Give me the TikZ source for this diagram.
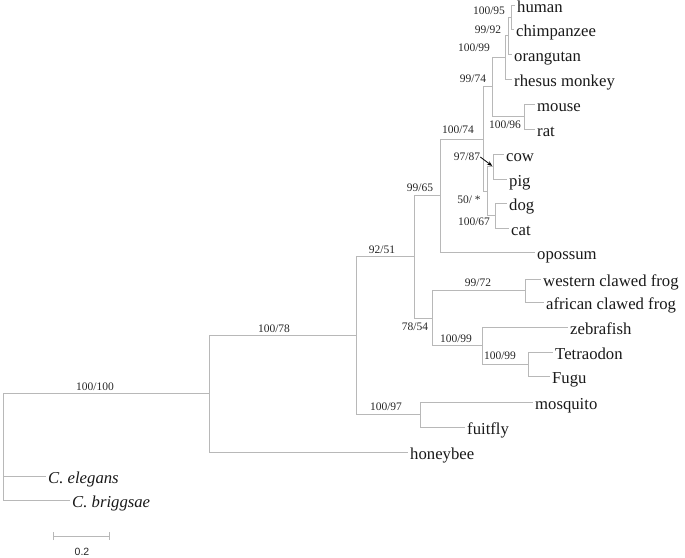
\documentclass[tikz,border=0pt]{standalone}
\usepackage{fontspec}
\setmainfont{Liberation Serif}
\setsansfont{Liberation Sans}
\usetikzlibrary{positioning,arrows.meta}
\tikzset{
  leaf/.style ={anchor=west, inner sep=2pt, text height=15.5pt, text depth=0pt,
                font=\fontsize{16.7}{18}\selectfont, text=black!90},
  bs/.style   ={inner sep=0pt, font=\fontsize{11.5}{13}\selectfont, text=black!85},
  br/.style   ={draw=black!28, line width=0.9pt},
  ptr/.style  ={-{Stealth[length=5pt,width=4pt]}, thick, black, shorten >=1pt},
  sbar/.style ={br, {Bar[width=8pt]}-{Bar[width=8pt]}}
}

\begin{document}
\begin{tikzpicture}[x=1pt,y=-1pt]
  \useasboundingbox (0,0) rectangle (685,557);

  % taxa
  \node[leaf] (human)   at (515,5)   {human};
  \node[leaf] (chimp)   at (514,29)  {chimpanzee};
  \node[leaf] (orang)   at (512,54)  {orangutan};
  \node[leaf] (rhesus)  at (512,79)  {rhesus monkey};
  \node[leaf] (mouse)   at (535,104) {mouse};
  \node[leaf] (rat)     at (535,129) {rat};
  \node[leaf] (cow)     at (504,154) {cow};
  \node[leaf] (pig)     at (507,179) {pig};
  \node[leaf] (dog)     at (507,203) {dog};
  \node[leaf] (cat)     at (509,228) {cat};
  \node[leaf] (opossum) at (535,252) {opossum};
  \node[leaf] (wfrog)   at (541,279) {western clawed frog};
  \node[leaf] (afrog)   at (544,302) {african clawed frog};
  \node[leaf] (zfish)   at (568,327) {zebrafish};
  \node[leaf] (tetra)   at (553,352) {Tetraodon};
  \node[leaf] (fugu)    at (550,376) {Fugu};
  \node[leaf] (mosq)    at (533,402) {mosquito};
  \node[leaf] (fly)     at (465,427) {fuitfly};
  \node[leaf] (bee)     at (408,452) {honeybee};
  \node[leaf] (eleg)    at (46,476)  {\itshape C. elegans};
  \node[leaf] (brigg)   at (70,500)  {\itshape C. briggsae};

  % internal nodes
  \coordinate (hc)   at (511,17);
  \coordinate (hco)  at (508,35.5);
  \coordinate (hcor) at (505,57.3);
  \coordinate (mr)   at (524,116.5);
  \coordinate (eug)  at (492,86.9);
  \coordinate (cp)   at (493,166.5);
  \coordinate (dc)   at (495,215.5);
  \coordinate (lau)  at (487,191);
  \coordinate (mam)  at (483,139);
  \coordinate (ther) at (440,195.5);
  \coordinate (frog) at (525,290.5);
  \coordinate (puf)  at (528,364);
  \coordinate (fish) at (482,345.5);
  \coordinate (amph) at (432,318);
  \coordinate (vert) at (414,256.8);
  \coordinate (ins)  at (420,414.5);
  \coordinate (prot) at (356,335.6);
  \coordinate (art)  at (209,393.8);
  \coordinate (root) at (3,393.8);

  % branches
  \draw[br] (hc) |- (human.west);   \draw[br] (hc) |- (chimp.west);
  \draw[br] (hco) |- (hc);          \draw[br] (hco) |- (orang.west);
  \draw[br] (hcor) |- (hco);        \draw[br] (hcor) |- (rhesus.west);
  \draw[br] (mr) |- (mouse.west);   \draw[br] (mr) |- (rat.west);
  \draw[br] (eug) |- (hcor);        \draw[br] (eug) |- (mr);
  \draw[br] (cp) |- (cow.west);     \draw[br] (cp) |- (pig.west);
  \draw[br] (dc) |- (dog.west);     \draw[br] (dc) |- (cat.west);
  \draw[br] (lau) |- (cp);          \draw[br] (lau) |- (dc);
  \draw[br] (mam) |- (eug);         \draw[br] (mam) |- (lau);
  \draw[br] (ther) |- (mam);        \draw[br] (ther) |- (opossum.west);
  \draw[br] (frog) |- (wfrog.west); \draw[br] (frog) |- (afrog.west);
  \draw[br] (puf) |- (tetra.west);  \draw[br] (puf) |- (fugu.west);
  \draw[br] (fish) |- (zfish.west); \draw[br] (fish) |- (puf);
  \draw[br] (amph) |- (frog);       \draw[br] (amph) |- (fish);
  \draw[br] (vert) |- (ther);       \draw[br] (vert) |- (amph);
  \draw[br] (ins) |- (mosq.west);   \draw[br] (ins) |- (fly.west);
  \draw[br] (prot) |- (vert);       \draw[br] (prot) |- (ins);
  \draw[br] (art) |- (prot);        \draw[br] (art) |- (bee.west);
  \draw[br] (root) -- (art);
  \draw[br] (root) |- (eleg.west);  \draw[br] (root) |- (brigg.west);

  % support values
  \node[bs] (b1)  at (489,11)  {100/95};
  \node[bs] (b2)  at (488,30)  {99/92};
  \node[bs] (b3)  at (474,48)  {100/99};
  \node[bs] (b4)  at (473,79)  {99/74};
  \node[bs] (b5)  at (505,125) {100/96};
  \node[bs] (b6)  at (458,130) {100/74};
  \node[bs] (b7)  at (467,157) {97/87};
  \node[bs] (b8)  at (469,200) {50/ *};
  \node[bs] (b9)  at (474,222) {100/67};
  \node[bs] (b10) at (420,188) {99/65};
  \node[bs] (b11) at (382,250) {92/51};
  \node[bs] (b12) at (415,327) {78/54};
  \node[bs] (b13) at (478,283) {99/72};
  \node[bs] (b14) at (456,339) {100/99};
  \node[bs] (b15) at (500,356) {100/99};
  \node[bs] (b16) at (386,407) {100/97};
  \node[bs] (b17) at (274,329) {100/78};
  \node[bs] (b18) at (95,387)  {100/100};
  \draw[ptr] (b7.east) -- (cp);

  % scale bar
  \coordinate (sb1) at (53,536);
  \coordinate (sb2) at (110,536);
  \draw[sbar] (sb1) -- (sb2);
  \node[font=\sffamily\fontsize{10.5}{12}\selectfont, text=black!85] (sblab) at (82,552) {0.2};
\end{tikzpicture}
\end{document}
